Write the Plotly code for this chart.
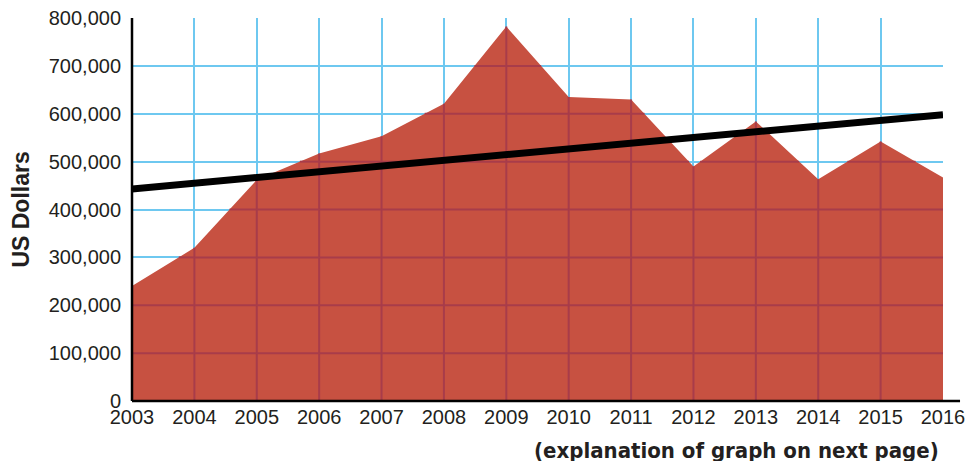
import plotly.graph_objects as go

years = list(range(2003, 2017))
dollars = [240000, 320000, 462000, 517000, 553000, 621000, 782000,
           635000, 630000, 490000, 584000, 463000, 542000, 467000]
trend_years = [2003, 2016]
trend_values = [443000, 598000]
y_ticks = list(range(0, 800001, 100000))

FILL = "rgb(199,81,65)"
GRID = "rgb(110,200,240)"
GRID_IN = "rgb(168,60,74)"

# grid segments lying inside the filled area (grid drawn over the fill)
gx, gy = [], []
for i in range(1, len(years) - 1):
    gx += [years[i], years[i], None]
    gy += [0, dollars[i], None]
for L in y_ticks[1:]:
    for i in range(len(years) - 1):
        x0, x1 = years[i], years[i + 1]
        v0, v1 = dollars[i], dollars[i + 1]
        if v0 >= L and v1 >= L:
            gx += [x0, x1, None]; gy += [L, L, None]
        elif v0 >= L > v1:
            xc = x0 + (v0 - L) / (v0 - v1) * (x1 - x0)
            gx += [x0, xc, None]; gy += [L, L, None]
        elif v1 >= L > v0:
            xc = x0 + (L - v0) / (v1 - v0) * (x1 - x0)
            gx += [xc, x1, None]; gy += [L, L, None]

fig = go.Figure()
fig.add_trace(go.Scatter(x=years, y=dollars, mode="lines", fill="tozeroy",
                         fillcolor=FILL, line=dict(width=0, color=FILL),
                         hoverinfo="skip"))
fig.add_trace(go.Scatter(x=gx, y=gy, mode="lines",
                         line=dict(color=GRID_IN, width=2), hoverinfo="skip"))
fig.add_trace(go.Scatter(x=trend_years, y=trend_values, mode="lines",
                         line=dict(color="black", width=7), hoverinfo="skip"))

tick_font = dict(family="Liberation Sans, Arial, sans-serif", size=20, color="#231F20")

# page body has an 8px margin: figure is shrunk by 8px so it fits the window
fig.update_layout(
    width=966, height=453,
    margin=dict(l=124, r=31, t=10, b=60, autoexpand=False),
    paper_bgcolor="white", plot_bgcolor="white",
    showlegend=False,
    xaxis=dict(range=[2003, 2016], tickvals=years, ticktext=[str(y) for y in years],
               showgrid=True, gridcolor=GRID, gridwidth=2, zeroline=False,
               showline=False, tickfont=tick_font, ticks="", ticklabelstandoff=2,
               ticklabeloverflow="allow"),
    yaxis=dict(range=[0, 800000], tickvals=y_ticks, tickformat=",",
               showgrid=True, gridcolor=GRID, gridwidth=2, zeroline=False,
               showline=False, tickfont=tick_font, ticks="", ticklabelstandoff=10,
               ticklabeloverflow="allow"),
    shapes=[
        dict(type="line", xref="paper", yref="paper", x0=0, x1=1.021, y0=0, y1=0,
             line=dict(color="black", width=2.5), layer="above"),
        dict(type="line", xref="paper", yref="paper", x0=0, x1=0, y0=0, y1=1,
             line=dict(color="black", width=2.5), layer="above"),
    ],
    annotations=[
        dict(text="<b>US Dollars</b>", xref="paper", yref="paper",
             x=-0.138, y=0.5, textangle=-90, showarrow=False,
             xanchor="center", yanchor="middle",
             font=dict(family="Liberation Sans, Arial, sans-serif", size=23, color="#231F20")),
        dict(text="<b>(explanation of graph on next page)</b>", xref="paper", yref="paper",
             x=1.0, xshift=-2, y=-0.128, showarrow=False, xanchor="right", yanchor="middle",
             font=dict(family="DejaVu Sans Condensed, DejaVu Sans, sans-serif",
                       size=22, color="#231F20")),
    ],
)

fig.write_html("out.html")
